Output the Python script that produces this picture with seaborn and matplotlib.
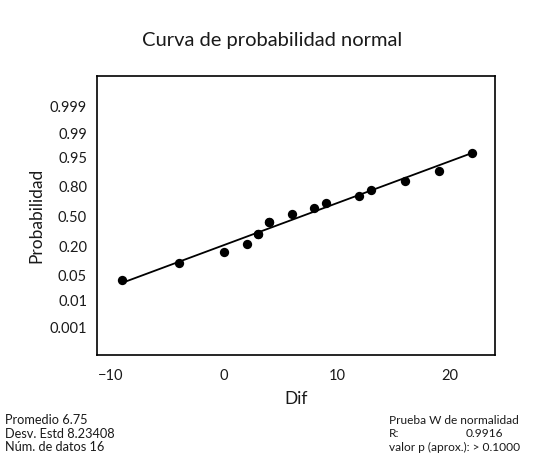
#Normal probability plot of the differences (Minitab style)
#Values

#Dependencies
from statistics import NormalDist
import numpy as np
import pandas as pd
import matplotlib
matplotlib.use("Agg")
import matplotlib.pyplot as plt
import seaborn as sns

#Data: 16 differences (3 and 4 appear twice)
dif = [-9, -4, 0, 2, 3, 3, 4, 4, 6, 8, 9, 12, 13, 16, 19, 22]
prob_ticks = [0.001, 0.01, 0.05, 0.20, 0.50, 0.80, 0.95, 0.99, 0.999]
prob_labels = ["0.001", "0.01", "0.05", "0.20", "0.50", "0.80", "0.95", "0.99", "0.999"]
x_ticks = [-10, 0, 10, 20]
x_labels = ["\u221210", "0", "10", "20"]
stats_left = ["Promedio 6.75", "Desv. Estd 8.23408", "N\u00fam. de datos 16"]

nd = NormalDist()

#Plot positions: Blom scores (i-3/8)/(n+1/4), ties get average rank
df = pd.DataFrame({"Dif": dif})
n = len(df)
df["rank"] = df["Dif"].rank(method="average")
df["p"] = (df["rank"] - 0.375) / (n + 0.25)
df["z"] = df["p"].apply(nd.inv_cdf)

#Fitted line: least squares of Dif on the normal scores
b, a = np.polyfit(df["z"], df["Dif"], 1)
xline = np.array([df["Dif"].min(), df["Dif"].max()])
zline = (xline - a) / b

sns.set_theme(style="white")
plt.rcParams["font.family"] = ["Lato", "DejaVu Sans"]

fig = plt.figure(figsize=(5.44, 4.59), dpi=100)
ax = fig.add_axes([0.178, 0.2266, 0.732, 0.6076])

ax.plot(xline, zline, color="black", lw=1.3, zorder=2)
sns.scatterplot(data=df, x="Dif", y="z", color="black", s=45, edgecolor="black",
                linewidth=0, ax=ax, zorder=3)

ax.set_xlim(-11.25, 24.0)
ax.set_ylim(-3.86, 3.93)
ax.set_yticks([nd.inv_cdf(p) for p in prob_ticks])
ax.set_yticklabels(prob_labels)
ax.set_xticks(x_ticks)
ax.set_xticklabels(x_labels)
ax.tick_params(axis="both", direction="out", length=4, width=1, color="black",
               labelsize=10.5, labelcolor="#1a1a1a", pad=3)
ax.tick_params(axis="x", pad=6)
for s in ax.spines.values():
    s.set_color("black")
    s.set_linewidth(1.2)

ax.set_xlabel("Dif", fontsize=12.5, color="#1a1a1a", labelpad=6)
ax.set_ylabel("Probabilidad", fontsize=12.5, color="#1a1a1a", labelpad=4)

fig.text(0.5, 0.911, "Curva de probabilidad normal", ha="center", va="center",
         fontsize=14.5, color="#1a1a1a")

for i, t in enumerate(stats_left):
    fig.text(5 / 544, 1 - (420 + i * 13.5) / 459, t, ha="left", va="center",
             fontsize=9.2, color="#1a1a1a")

fig.text(389 / 544, 1 - 420 / 459, "Prueba W de normalidad", ha="left", va="center",
         fontsize=8.6, color="#1a1a1a")
fig.text(389 / 544, 1 - 433.5 / 459, "R:", ha="left", va="center",
         fontsize=8.6, color="#1a1a1a")
fig.text(503 / 544, 1 - 433.5 / 459, "0.9916", ha="right", va="center",
         fontsize=8.6, color="#1a1a1a")
fig.text(389 / 544, 1 - 447 / 459, "valor p (aprox.): > 0.1000", ha="left", va="center",
         fontsize=8.6, color="#1a1a1a")

fig.savefig("out.png", dpi=100)
